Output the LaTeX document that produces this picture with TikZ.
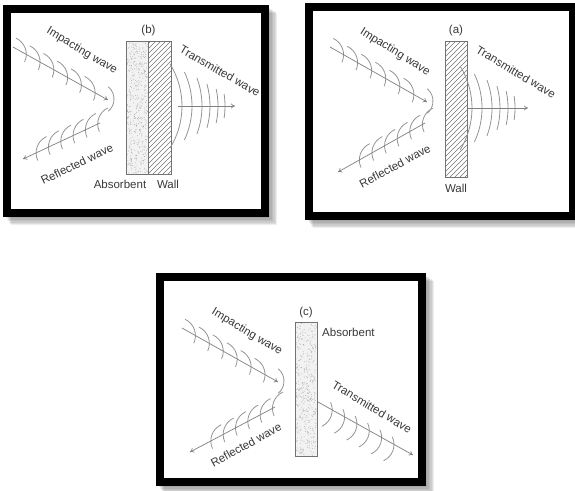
\documentclass[tikz,border=0pt]{standalone}
\usepackage{fontspec}
\setmainfont{Liberation Sans}
\usetikzlibrary{calc,arrows.meta}

\tikzset{
  lbl/.style={font=\fontsize{11.5}{13}\selectfont, text=black!78, inner sep=0pt},
  ray/.style={draw=black!50, line width=0.7, -{To[length=4,width=5]}},
  wavearc/.style={draw=black!42, line width=0.8},
  layer/.style={draw=black!55, line width=0.8},
  hatch/.style={draw=black!55, line width=0.5},
}

% black picture frame with a soft shadow: outer corner, outer corner
\newcommand\panelframe[4]{%
  \foreach \k in {1,...,6}
    \fill[black,opacity=0.07] (#1+\k+2,#2+\k+2) rectangle (#3+\k*1.4,#4+\k*1.4);
  \fill[black] (#1,#2) rectangle (#3,#4);
  \fill[white] (#1+8,#2+8) rectangle (#3-8,#4-8);
}
% stippled absorbent layer
\newcommand\absorbfill[4]{%
  \fill[black!5] (#1,#2) rectangle (#3,#4);
  \foreach \k in {1,...,420}
    \fill[black!32] ({#1+0.6+rnd*(#3-#1-1.2)},{#2+0.6+rnd*(#4-#2-1.2)}) circle (0.45);
  \draw[layer] (#1,#2) rectangle (#3,#4);
}
% hatched wall layer
\newcommand\wallfill[4]{%
  \begin{scope}
    \clip (#1,#2) rectangle (#3,#4);
    \foreach \s in {-145,-140,...,30}
      \draw[hatch] (#1+\s,#4) -- ++(150,-150);
  \end{scope}
  \draw[layer] (#1,#2) rectangle (#3,#4);
}
% wave fronts travelling right, sitting above the ray
\newcommand\impactarcs[3]{%
  \foreach \t in {#3}
    \draw[wavearc] ($(#1)!\t!(#2)$) ++(-10.39,-16.31) arc[start angle=-65,end angle=25,radius=18];
  \draw[wavearc] ($(#2)+(6,-1)$) ++(-5.72,-12.26) arc[start angle=-50,end angle=50,radius=16];
}
% wave fronts travelling left, sitting above the ray
\newcommand\reflarcs[3]{%
  \foreach \t in {#3}
    \draw[wavearc] ($(#1)!\t!(#2)$) ++(1.69,7.61) arc[start angle=155,end angle=245,radius=18];
}
% wave fronts travelling right, hanging below the ray
\newcommand\lowarcs[3]{%
  \foreach \t in {#3}
    \draw[wavearc] ($(#1)!\t!(#2)$) ++(-1.69,-7.61) arc[start angle=-25,end angle=65,radius=18];
}
% fan of transmitted fronts: apex x, axis y
\newcommand\fanarcs[2]{%
  \foreach \dx/\h in {0/42,10/34,20/28,28/22,36/17,43/12} {
    \pgfmathsetmacro\al{asin(\h/80)}
    \draw[wavearc] (#1+\dx,#2) ++({80*cos(\al)-80},{-80*sin(\al)}) arc[start angle=-\al,end angle=\al,radius=80];
  }
}

\begin{document}
\begin{tikzpicture}[x=1pt,y=-1pt]
  \useasboundingbox (0,0) rectangle (575,490);
  \pgfmathsetseed{4217}

  % ---------- (b): absorbent in front of a wall ----------
  \panelframe{3}{5}{269}{217}
  \absorbfill{126}{41}{148}{174}
  \wallfill{148}{41}{171}{174}
  \node[lbl] (blab) at (148.5,31) {(b)};
  \node[lbl] (babs) at (120,184) {Absorbent};
  \node[lbl] (bwall) at (168,184) {Wall};
  \coordinate (bIa) at (13,47);   \coordinate (bIb) at (108,100);
  \coordinate (bRa) at (100,123); \coordinate (bRb) at (23,159);
  \coordinate (bTa) at (178,106); \coordinate (bTb) at (235,106);
  \impactarcs{bIa}{bIb}{0.14,0.285,0.43,0.575,0.72,0.865}
  \reflarcs{bRa}{bRb}{0.03,0.19,0.35,0.51,0.67,0.83}
  \fanarcs{182}{106}
  \draw[ray] (bIa) -- (bIb);
  \draw[ray] (bRa) -- (bRb);
  \draw[ray] (bTa) -- (bTb);
  \node[lbl,rotate=-31] (bimp) at (82,51) {Impacting wave};
  \node[lbl,rotate=26] (bref) at (77,164) {Reflected wave};
  \node[lbl,rotate=-30] (btra) at (220,71) {Transmitted wave};

  % ---------- (a): bare wall ----------
  \panelframe{305}{3}{577}{220}
  \wallfill{445}{41}{467}{177}
  \node[lbl] (alab) at (456,31) {(a)};
  \node[lbl] (awall) at (456,188) {Wall};
  \coordinate (aIa) at (330,47);  \coordinate (aIb) at (427,102);
  \coordinate (aRa) at (425,123); \coordinate (aRb) at (338,172);
  \coordinate (aTa) at (468,108); \coordinate (aTb) at (528,108);
  \impactarcs{aIa}{aIb}{0.14,0.285,0.43,0.575,0.72,0.865}
  \reflarcs{aRa}{aRb}{0.03,0.175,0.32,0.465,0.61,0.755}
  \fanarcs{472}{108}
  \draw[ray] (aIa) -- (aIb);
  \draw[ray] (aRa) -- (aRb);
  \draw[ray] (aTa) -- (aTb);
  \node[lbl,rotate=-32] (aimp) at (395,52) {Impacting wave};
  \node[lbl,rotate=28] (aref) at (395,166) {Reflected wave};
  \node[lbl,rotate=-31] (atra) at (516,72) {Transmitted wave};

  % ---------- (c): absorbent alone ----------
  \panelframe{156}{273}{426}{486}
  \absorbfill{295}{322}{317}{456}
  \node[lbl] (clab) at (306,313) {(c)};
  \node[lbl,anchor=west] (cabs) at (322,332) {Absorbent};
  \coordinate (cIa) at (182,328); \coordinate (cIb) at (278,382);
  \coordinate (cRa) at (275,407); \coordinate (cRb) at (190,452);
  \coordinate (cTa) at (318,402); \coordinate (cTb) at (413,455);
  \impactarcs{cIa}{cIb}{0.14,0.285,0.43,0.575,0.72,0.865}
  \reflarcs{cRa}{cRb}{0.03,0.175,0.32,0.465,0.61,0.755}
  \lowarcs{cTa}{cTb}{0.15,0.28,0.41,0.54,0.67,0.8}
  \draw[ray] (cIa) -- (cIb);
  \draw[ray] (cRa) -- (cRb);
  \draw[ray] (cTa) -- (cTb);
  \node[lbl,rotate=-31] (cimp) at (247,332) {Impacting wave};
  \node[lbl,rotate=29] (cref) at (246,445) {Reflected wave};
  \node[lbl,rotate=-31] (ctra) at (372,407) {Transmitted wave};
\end{tikzpicture}
\end{document}
